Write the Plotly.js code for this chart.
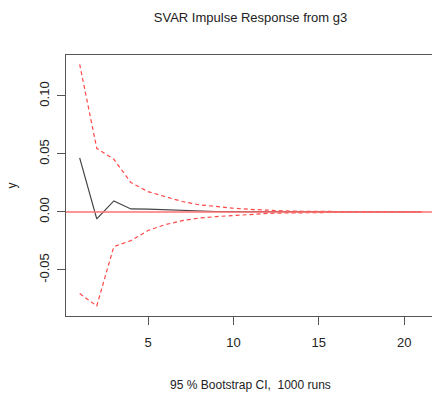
<!DOCTYPE html>
<html>
<head>
<meta charset="utf-8">
<script src="https://cdn.plot.ly/plotly-3.0.1.min.js"></script>
<style>
html, body { margin: 0; padding: 0; overflow: hidden; background: #fff; width: 432px; height: 399px; }
#chart { width: 436px; height: 399px; }
</style>
</head>
<body>
<div id="chart"></div>
<script>
const steps = [1,2,3,4,5,6,7,8,9,10,11,12,13,14,15,16,17,18,19,20,21];
const irf   = [0.0466,-0.0060,0.0095,0.0026,0.0025,0.0020,0.0010,0.0009,0.0004,0.0002,0.0001,0.0001,0.0000,0.0000,0.0000,0.0000,0.0000,0.0000,0.0000,0.0000,0.0000];
const upper = [0.1273,0.0549,0.0454,0.0253,0.0175,0.0132,0.0090,0.0062,0.0045,0.0032,0.0022,0.0014,0.0009,0.0006,0.0004,0.0003,0.0002,0.0001,0.0001,0.0000,0.0000];
const lower = [-0.0704,-0.0810,-0.0299,-0.0247,-0.0160,-0.0110,-0.0075,-0.0052,-0.0040,-0.0029,-0.0020,-0.0013,-0.0009,-0.0006,-0.0004,-0.0003,-0.0002,-0.0001,-0.0001,0.0000,0.0000];
const xTicks = [5,10,15,20];
const yTicks = [-0.05,0,0.05,0.10];
const yTickText = ['-0.05','0.00','0.05','0.10'];

const font = {family: 'Liberation Sans, Arial, sans-serif', size: 12, color: '#222'};

const traces = [
  {x: steps, y: irf, mode: 'lines', line: {color: '#444', width: 1.2}},
  {x: steps, y: upper, mode: 'lines', line: {color: 'rgba(255,40,40,0.85)', width: 1.2, dash: '4px,3px'}},
  {x: steps, y: lower, mode: 'lines', line: {color: 'rgba(255,40,40,0.85)', width: 1.2, dash: '4px,3px'}},
  {x: [0, 22], y: [0, 0], mode: 'lines', line: {color: '#ff7272', width: 1.5}, hoverinfo: 'skip'}
];

const layout = {
  width: 436, height: 399,
  margin: {l: 66, r: 1, t: 55, b: 83},
  paper_bgcolor: '#fff', plot_bgcolor: '#fff',
  showlegend: false,
  font: font,
  title: {text: 'SVAR Impulse Response from g3', font: {family: font.family, size: 13, color: '#222'},
          x: 0.5, xref: 'paper', y: 1 - 17/399, yanchor: 'middle'},
  xaxis: {
    range: [0.2, 21.8], tickvals: xTicks, ticktext: xTicks.map(String),
    showgrid: false, zeroline: false, showline: true, mirror: true, linecolor: '#555', linewidth: 1,
    ticks: 'outside', ticklen: 8, tickcolor: '#555', ticklabelstandoff: 6,
    tickfont: {family: font.family, size: 13, color: '#222'},
    title: {text: '95 % Bootstrap CI,\u00a0 1000 runs', font: {family: font.family, size: 12, color: '#222'}, standoff: 32}
  },
  yaxis: {
    range: [-0.0897, 0.1353], tickvals: yTicks, ticktext: yTickText, tickangle: -90,
    showgrid: false, zeroline: false, showline: true, mirror: true, linecolor: '#555', linewidth: 1,
    ticks: 'outside', ticklen: 8, tickcolor: '#555', ticklabelstandoff: 3,
    tickfont: {family: font.family, size: 13, color: '#222'},
    title: {text: 'y', font: {family: font.family, size: 12, color: '#222'}, standoff: 17}
  }
};

Plotly.newPlot('chart', traces, layout, {staticPlot: true, displayModeBar: false});
</script>
</body>
</html>
